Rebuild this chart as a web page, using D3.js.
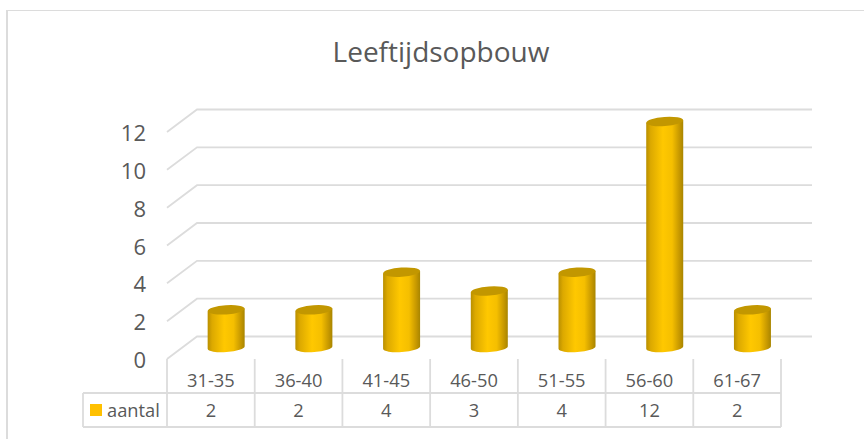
<!DOCTYPE html>
<html>
<head>
<meta charset="utf-8">
<script src="https://cdn.jsdelivr.net/npm/d3@7"></script>
<style>
html,body{margin:0;padding:0;background:#fff}
svg{display:block}
text{font-family:"Open Sans","Noto Sans",sans-serif;fill:#595959}
</style>
</head>
<body>
<svg id="chart" width="864" height="439"></svg>
<script>
const categories = ["31-35","36-40","41-45","46-50","51-55","56-60","61-67"];
const counts = [2,2,4,3,4,12,2];
const yTicks = [0,2,4,6,8,10,12];
const seriesName = "aantal";
const chartTitle = "Leeftijdsopbouw";

const svg = d3.select("#chart");
const gridColor = "#dcdcdc";

// Floor-plane offset between the front and back walls of the 3D plot
const depthX = 30, depthY = -22.5;

const x = d3.scaleBand().domain(categories).range([167,781]).padding(0);
const yFront = d3.scaleLinear().domain([0,12]).range([359,132]);
const yBar = d3.scaleLinear().domain([0,12]).range([347.5,121.5]);

const defs = svg.append("defs");
const side = defs.append("linearGradient").attr("id","cylSide");
[[0,"#b98f00"],[0.12,"#dca900"],[0.45,"#ffc800"],[0.7,"#f5bf00"],[0.9,"#c59700"],[1,"#a88500"]]
  .forEach(([o,c]) => side.append("stop").attr("offset",o).attr("stop-color",c));

// Outer chart frame: heavier on the left, hairline along the top
svg.append("line").attr("x1",7).attr("x2",7).attr("y1",10).attr("y2",439)
  .attr("stroke",gridColor).attr("stroke-width",2);
svg.append("line").attr("x1",6).attr("x2",864).attr("y1",10.5).attr("y2",10.5)
  .attr("stroke",gridColor).attr("stroke-width",1.2);

svg.append("text").attr("x",441).attr("y",62)
  .attr("text-anchor","middle").attr("font-size",28).text(chartTitle);

// Gridlines: a slanted foot on the side wall, then along the back wall
const gridLine = t => d3.line()([
  [x.range()[0], yFront(t)],
  [x.range()[0]+depthX, yFront(t)+depthY],
  [812, yFront(t)+depthY]
]);
svg.append("g").selectAll("path").data(yTicks).join("path")
  .attr("d",gridLine).attr("fill","none")
  .attr("stroke",gridColor).attr("stroke-width",1.8);

// Value axis labels
svg.append("g").selectAll("text").data(yTicks).join("text")
  .attr("x",146).attr("y",d => yFront(d)+9)
  .attr("text-anchor","end").attr("font-size",22).text(d => d);

// Cylinders
const rx = 18.5, ry = 4.6, tilt = -4;
const cx = d => x(d) + x.bandwidth()/2 + 15.3;
const bars = svg.append("g").selectAll("g")
  .data(categories.map((c,i) => ({c, v:counts[i]}))).join("g");
bars.append("path")
  .attr("d", d => {
    const l = cx(d.c)-rx, r = cx(d.c)+rx, top = yBar(d.v), bot = yBar(0);
    const dy = 1.3;
    return `M${l},${top+dy}L${l},${bot+dy}A${rx},${ry} ${tilt} 0 0 ${r},${bot-dy}L${r},${top-dy}Z`;
  })
  .attr("fill","url(#cylSide)");
bars.append("ellipse")
  .attr("cx", d => cx(d.c)).attr("cy", d => yBar(d.v))
  .attr("rx",rx).attr("ry",ry)
  .attr("transform", d => `rotate(${tilt} ${cx(d.c)} ${yBar(d.v)})`)
  .attr("fill","#c29700");

// Data table beneath the plot
const tableTop = 359, rowTop = 393, tableBottom = 427, tableLeft = 83;
const rules = svg.append("g").attr("stroke",gridColor).attr("stroke-width",1.8).attr("fill","none");
x.domain().concat("end").forEach((c,i) => {
  const px = x.range()[0] + i*x.bandwidth();
  rules.append("line").attr("x1",px).attr("x2",px).attr("y1",tableTop).attr("y2",tableBottom);
});
rules.append("line").attr("x1",tableLeft).attr("x2",781).attr("y1",rowTop).attr("y2",rowTop);
rules.append("line").attr("x1",tableLeft).attr("x2",781).attr("y1",tableBottom).attr("y2",tableBottom);
rules.append("line").attr("x1",tableLeft).attr("x2",tableLeft).attr("y1",rowTop).attr("y2",tableBottom);

svg.append("g").selectAll("text").data(categories).join("text")
  .attr("x", d => x(d)+x.bandwidth()/2).attr("y",387)
  .attr("text-anchor","middle").attr("font-size",18.3).text(d => d);
svg.append("g").selectAll("text").data(counts).join("text")
  .attr("x",(d,i) => x(categories[i])+x.bandwidth()/2).attr("y",416.5)
  .attr("text-anchor","middle").attr("font-size",18.3).text(d => d);

svg.append("rect").attr("x",90).attr("y",404).attr("width",12).attr("height",12).attr("fill","#ffc000");
svg.append("text").attr("x",107).attr("y",416.5).attr("font-size",18.3).text(seriesName);
</script>
</body>
</html>
